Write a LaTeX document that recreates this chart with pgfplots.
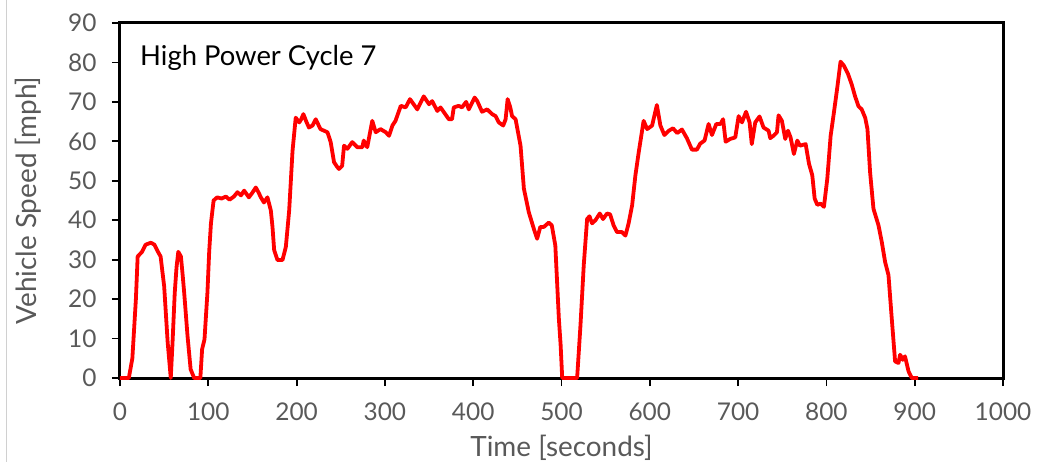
\documentclass[border=0pt]{standalone}
\usepackage{fontspec}
\setmainfont{Lato}
\usepackage{pgfplots}
\pgfplotsset{compat=1.18}
\definecolor{labelgray}{HTML}{595959}
\definecolor{framegray}{HTML}{D0D0D0}

\begin{document}
\begin{tikzpicture}
% page size and the thin frame on the left edge
\useasboundingbox (-120bp,-84bp) rectangle (917bp,378bp);
\draw[framegray, line width=1bp] (-113bp,-84bp) -- (-113bp,378bp);
\begin{axis}[
  scale only axis,
  width=883bp, height=355bp,
  xmin=0, xmax=1000, ymin=0, ymax=90,
  xtick={0,100,...,1000},
  ytick={0,10,...,90},
  xtick pos=bottom, ytick pos=left,
  tick align=outside,
  major tick length=8bp,
  axis line style={line width=3bp, black},
  tick style={line width=1.8bp, black},
  /pgf/number format/assume math mode=true,
  /pgf/number format/1000 sep={},
  ticklabel style={font=\fontsize{24.5}{28}\selectfont, text=labelgray},
  xticklabel style={yshift=-13bp},
  yticklabel style={xshift=-12bp},
  xlabel={Time [seconds]},
  ylabel={Vehicle Speed [mph]},
  label style={font=\fontsize{28}{32}\selectfont, text=labelgray},
  xlabel style={at={(axis description cs:0.5,-0.196)}, anchor=center},
  ylabel style={at={(axis description cs:-0.104,0.5)}, anchor=center},
  clip=false,
]
\addplot[red, line width=3.8bp, line join=round] coordinates {
(0,0) (10,0) (14,5) (18,20) (20,30.8) (25,32) (29,33.8) (35,34.3) (39,33.8)
(43,32) (46,30.8) (48,27) (50,23.3) (54,9) (57.5,0) (59.5,9) (62,21.6) (64,28)
(66,32) (69,30.8) (71,26) (72.7,21.6) (76.5,10.6) (80,2.2) (84,0) (91,0)
(93,7.3) (95.7,9.8) (99,21.6) (101,32) (103,39.2) (106,45) (110,45.8)
(115,45.5) (120,46) (124,45.2) (129,46) (133,47.1) (137,46.3) (140.6,47.5)
(146,45.8) (150,47) (153.8,48.3) (157,47) (159.5,45.8) (163,44.5) (167,45.8)
(170.8,42.5) (172.7,38.3) (174.6,32.4) (178.4,29.9) (184,29.9) (187.8,33.2)
(191.6,42.5) (195.4,57.6) (199,66) (203,64.8) (205,65.5) (207.7,66.9)
(211,65) (214,63.5) (218,64) (221.7,65.6) (227,63.1) (235,62.3) (238.6,59.8)
(242.4,54.7) (246,53.5) (248,53) (251.6,53.8) (253.7,58.9) (257.5,58.1)
(263,59.8) (268.8,58.5) (274.5,58.5) (276,60.2) (280,58.5) (285.7,65.2)
(289.6,62.3) (295,63.1) (301,62.3) (304.7,61.4) (308.5,64) (312,65.2)
(318,69) (323.5,68.6) (328.4,70.7) (336.7,68.1) (344,71.4) (350,69.4)
(353.5,70.2) (359.4,67.7) (363,68.6) (372.4,65.6) (376,65.6) (378,68.6)
(383.5,69) (387.3,68.6) (392,70) (395,68.1) (401.6,71.1) (404.6,70.2)
(410,67.5) (415.8,68.1) (421.5,66.9) (425.3,66.4) (429,64.8) (434,64)
(436.7,65.6) (439,70.7) (442,68.6) (444,66.4) (448,65.6) (453.6,58.9)
(457.4,48) (463,42) (468.7,37.8) (472.4,35.3) (476,38.3) (480,38.3)
(485.6,39.4) (489,38.7) (493,33.6) (497,15.1) (499,8.4) (500.8,0)
(517.7,0) (521.5,13.4) (525.2,28.6) (529,40.3) (531.7,41) (534.6,39.2)
(538.4,40) (543.4,41.7) (547,40.3) (551.6,41.7) (555,41.5) (559,38.7)
(562.8,37) (568.5,37) (572.4,36.1) (576,39.2) (580,43.8) (583.7,51.4)
(587.5,57.3) (593,65.2) (597,63.1) (602.6,64) (608,69.2) (612,64)
(616.5,61.6) (621.5,62.7) (626.3,63.3) (631,62.1) (636.4,63) (642,60.8)
(647.7,57.9) (653.4,57.9) (657,59.4) (662,60.2) (666.6,64.4) (670.4,61.6)
(675.3,64.4) (680,64.4) (683,65.6) (685.9,59.9) (691,60.6) (696.8,61)
(700.6,66.4) (704.4,64.8) (709,67.5) (713,64.8) (715.5,59.3) (719.4,64.8)
(724.3,66.3) (728.8,63.5) (734.5,62.7) (736.4,60.8) (740,61.4) (744,62.3)
(745.8,66.6) (749.6,65.2) (753.4,60.6) (756.5,62.7) (759.4,61) (763.2,56.8)
(767,60.2) (770,58.9) (776.5,59.3) (780.3,54.3) (784,51.4) (786.7,45.5)
(789.7,43.9) (793.4,44.2) (797.2,43.4) (801,50.5) (804.8,61.4) (808.5,67.3)
(812.3,73.6) (816,80.2) (819.8,79.2) (824.3,77.2) (828.7,74.4) (832.5,71.4)
(836.3,68.9) (840,68.1) (843.9,66) (846.5,63.1) (849.5,52.1) (853.3,42.9)
(859,38.7) (862.7,34.5) (866.5,29.4) (870.3,26.1) (874,15.1) (877.8,4.2)
(881.6,3.8) (883.5,5.9) (886.5,4.6) (889,5.5) (893,1.7) (896.7,0) (904,0)
};
\node[anchor=base west, inner sep=0pt, font=\fontsize{27.5}{32}\selectfont, text=black]
  at (axis description cs:0.0227,0.879) {High Power Cycle 7};
\end{axis}
\end{tikzpicture}
\end{document}
